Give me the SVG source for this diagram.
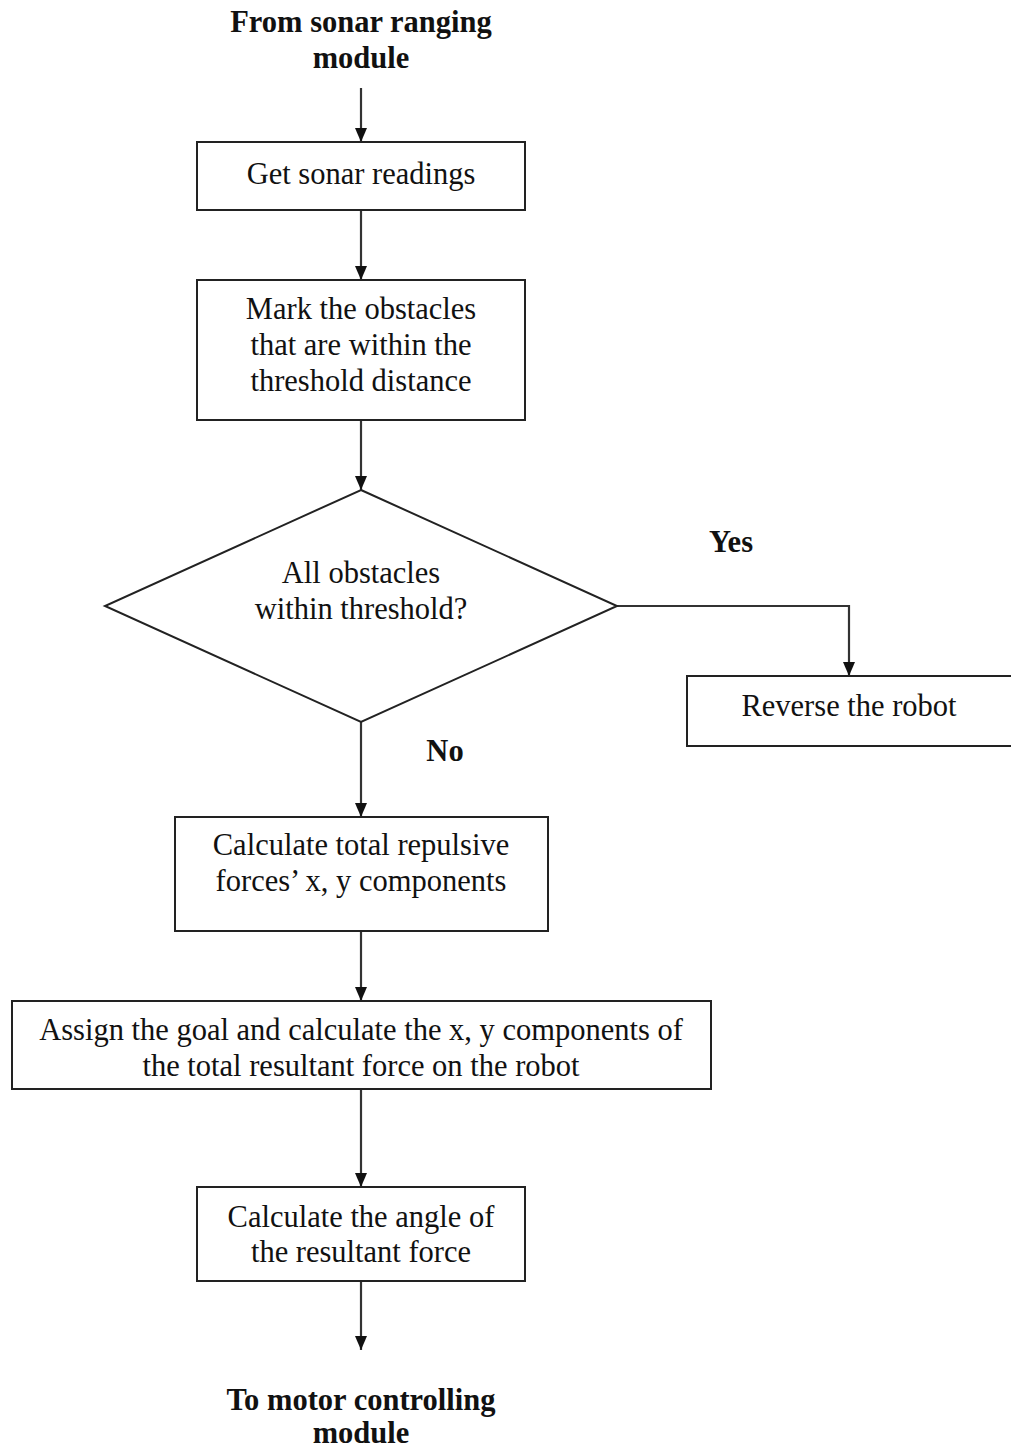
<svg xmlns="http://www.w3.org/2000/svg" width="1011" height="1450" viewBox="0 0 1011 1450">
<style>
.box{fill:#fff;stroke:#222;stroke-width:2}
.t{font-family:"Liberation Serif","Times New Roman",serif;font-size:30.5px;fill:#111;text-anchor:middle}
.b{font-weight:bold}
.c{fill:none;stroke:#333;stroke-width:2.2}
</style>
<defs>
<marker id="ah" viewBox="0 0 14 12" refX="14" refY="6" markerWidth="14" markerHeight="12" markerUnits="userSpaceOnUse" orient="auto">
<path d="M0,0 L14,6 L0,12 Z" fill="#111"/>
</marker>
</defs>
<rect width="1011" height="1450" fill="#fff"/>

<g id="connectors">
<path class="c" d="M361,88 V142" marker-end="url(#ah)"/>
<path class="c" d="M361,210 V280" marker-end="url(#ah)"/>
<path class="c" d="M361,420 V490" marker-end="url(#ah)"/>
<path class="c" d="M617,606 H849 V676" marker-end="url(#ah)"/>
<path class="c" d="M361,722 V817" marker-end="url(#ah)"/>
<path class="c" d="M361,931 V1001" marker-end="url(#ah)"/>
<path class="c" d="M361,1089 V1187" marker-end="url(#ah)"/>
<path class="c" d="M361,1281 V1350" marker-end="url(#ah)"/>
</g>

<g id="start">
<text class="t b" x="361" y="32">From sonar ranging</text>
<text class="t b" x="361" y="68">module</text>
</g>

<g id="get-readings">
<rect class="box" x="197" y="142" width="328" height="68"/>
<text class="t" x="361" y="184">Get sonar readings</text>
</g>

<g id="mark-obstacles">
<rect class="box" x="197" y="280" width="328" height="140"/>
<text class="t" x="361" y="319">Mark the obstacles</text>
<text class="t" x="361" y="355">that are within the</text>
<text class="t" x="361" y="391">threshold distance</text>
</g>

<g id="decision">
<polygon class="box" points="361,490 617,606 361,722 105,606"/>
<text class="t" x="361" y="583">All obstacles</text>
<text class="t" x="361" y="619">within threshold?</text>
</g>

<g id="label-yes">
<text class="t b" x="731" y="552">Yes</text>
</g>

<g id="reverse">
<rect class="box" x="687" y="676" width="340" height="70"/>
<text class="t" x="849" y="716">Reverse the robot</text>
</g>

<g id="label-no">
<text class="t b" x="445" y="761">No</text>
</g>

<g id="repulsive">
<rect class="box" x="175" y="817" width="373" height="114"/>
<text class="t" x="361" y="855">Calculate total repulsive</text>
<text class="t" x="361" y="891">forces’ x, y components</text>
</g>

<g id="resultant">
<rect class="box" x="12" y="1001" width="699" height="88"/>
<text class="t" x="361" y="1040">Assign the goal and calculate the x, y components of</text>
<text class="t" x="361" y="1076">the total resultant force on the robot</text>
</g>

<g id="angle">
<rect class="box" x="197" y="1187" width="328" height="94"/>
<text class="t" x="361" y="1227">Calculate the angle of</text>
<text class="t" x="361" y="1262">the resultant force</text>
</g>

<g id="end">
<text class="t b" x="361" y="1410">To motor controlling</text>
<text class="t b" x="361" y="1443">module</text>
</g>
</svg>
